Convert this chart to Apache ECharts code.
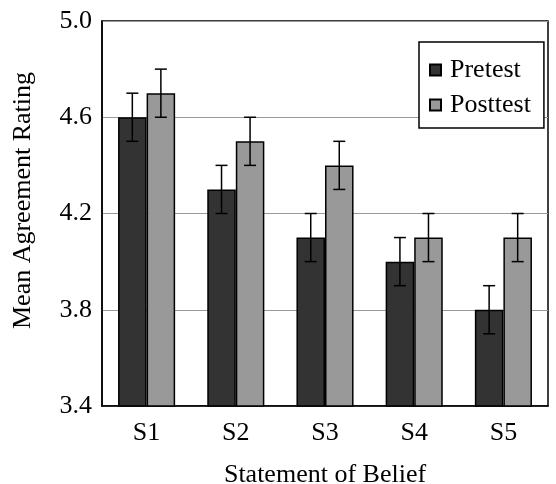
<!DOCTYPE html>
<html><head><meta charset="utf-8">
<script src="https://cdn.jsdelivr.net/npm/echarts@6/dist/echarts.min.js"></script>
<style>html,body{margin:0;padding:0;background:#fff}#c{width:556px;height:484px}</style>
</head><body><div id="c"></div>
<script>
const categories = ['S1','S2','S3','S4','S5'];
const pretest = [4.6, 4.3, 4.1, 4.0, 3.8];
const posttest = [4.7, 4.5, 4.4, 4.1, 4.1];
const pretestErr = [0.1, 0.1, 0.1, 0.1, 0.1];
const posttestErr = [0.1, 0.1, 0.1, 0.1, 0.1];

const FONT = 'Liberation Serif';
const FS = 26;
const CAT_GAP = 0.36;
const chart = echarts.init(document.getElementById('c'));

function errSeries(vals, errs, side) {
  return {
    type: 'custom',
    z: 10,
    silent: true,
    data: vals.map((v, i) => [i, v - errs[i], v + errs[i]]),
    renderItem: function (params, api) {
      const band = api.size([1, 0])[0];
      const bw = band * (1 - CAT_GAP) / 2;
      const lo = api.coord([api.value(0), api.value(1)]);
      const hi = api.coord([api.value(0), api.value(2)]);
      const x = lo[0] + side * bw / 2;
      const cap = 6;
      const st = { stroke: '#000', lineWidth: 1.5 };
      return { type: 'group', children: [
        { type: 'line', shape: { x1: x, y1: lo[1], x2: x, y2: hi[1] }, style: st },
        { type: 'line', shape: { x1: x - cap, y1: lo[1], x2: x + cap, y2: lo[1] }, style: st },
        { type: 'line', shape: { x1: x - cap, y1: hi[1], x2: x + cap, y2: hi[1] }, style: st }
      ]};
    }
  };
}

chart.setOption({
  animation: false,
  textStyle: { fontFamily: FONT },
  grid: { left: 102, right: 8, top: 21, bottom: 78, containLabel: false, outerBoundsMode: 'none',
          show: true, borderColor: '#000', borderWidth: 1.5, backgroundColor: 'transparent' },
  legend: {
    orient: 'vertical',
    left: 419, top: 42,
    data: ['Pretest', 'Posttest'],
    icon: 'rect', itemWidth: 11, itemHeight: 11,
    itemGap: 9,
    padding: [15, 13, 10, 10],
    borderColor: '#000', borderWidth: 1.5,
    backgroundColor: '#fff',
    textStyle: { fontFamily: FONT, fontSize: FS, color: '#000', padding: [0, 0, 0, 4] }
  },
  xAxis: {
    type: 'category', data: categories,
    name: 'Statement of Belief', nameLocation: 'middle', nameGap: 56,
    nameTextStyle: { fontFamily: FONT, fontSize: FS, color: '#000' },
    axisLine: { lineStyle: { color: '#000', width: 1.5 } },
    axisTick: { show: false },
    axisLabel: { fontFamily: FONT, fontSize: FS, color: '#000', margin: 14 }
  },
  yAxis: {
    type: 'value', min: 3.4, max: 5.0, interval: 0.4,
    name: 'Mean Agreement Rating', nameLocation: 'middle', nameGap: 66,
    nameTextStyle: { fontFamily: FONT, fontSize: FS, color: '#000', padding: [0, 0, 0, 26] },
    axisLine: { show: true, lineStyle: { color: '#000', width: 1.5 } },
    axisTick: { show: false },
    axisLabel: { fontFamily: FONT, fontSize: FS, color: '#000', margin: 10, formatter: v => v.toFixed(1) },
    splitLine: { lineStyle: { color: '#999', width: 1.2 } }
  },
  series: [
    { name: 'Pretest', type: 'bar', data: pretest, barGap: '0%', barCategoryGap: (CAT_GAP * 100) + '%',
      itemStyle: { color: '#333333', borderColor: '#000', borderWidth: 1.5 } },
    { name: 'Posttest', type: 'bar', data: posttest, barGap: '0%', barCategoryGap: (CAT_GAP * 100) + '%',
      itemStyle: { color: '#999999', borderColor: '#000', borderWidth: 1.5 } },
    errSeries(pretest, pretestErr, -1),
    errSeries(posttest, posttestErr, 1)
  ]
});
</script></body></html>
